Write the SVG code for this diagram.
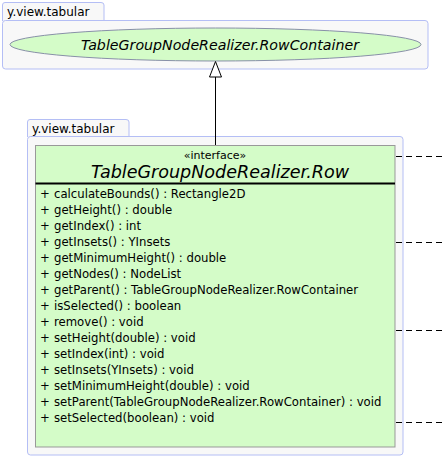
<svg xmlns="http://www.w3.org/2000/svg" width="442" height="458" viewBox="0 0 442 458">
<style>
.pkg{fill:#f8f8f8;stroke:#b4bef5;stroke-width:1}
.pkgt{font-family:"DejaVu Sans",sans-serif;font-size:12px;fill:#000}
.m{font-family:"DejaVu Sans",sans-serif;font-size:11.7px;fill:#000}
.dash{stroke:#000;stroke-width:1;stroke-dasharray:6,4;fill:none}
</style>
<rect width="442" height="458" fill="#fff"/>
<g id="pkg1">
<path class="pkg" d="M2.5,21 V5 Q2.5,2.5 5,2.5 H101 Q104,2.5 104,5 V21"/>
<rect class="pkg" x="2.5" y="20.5" width="425.5" height="48.5" rx="3"/>
<text class="pkgt" x="7" y="16">y.view.tabular</text>
</g>
<g id="rowcontainer">
<ellipse cx="215.5" cy="44.5" rx="205.5" ry="16.5" fill="#d4fcc8" stroke="#8890a8" stroke-width="1"/>
<text x="220" y="49.5" text-anchor="middle" font-family="DejaVu Sans,sans-serif" font-style="italic" font-size="13.5" textLength="278" lengthAdjust="spacingAndGlyphs">TableGroupNodeRealizer.RowContainer</text>
</g>
<g id="pkg2">
<path class="pkg" d="M27.5,137 V122 Q27.5,119.5 30,119.5 H126 Q129,119.5 129,122 V137"/>
<rect class="pkg" x="27.5" y="136.5" width="375.5" height="318.5" rx="3"/>
<text class="pkgt" x="32" y="133">y.view.tabular</text>
</g>
<g id="row">
<rect x="35.5" y="145.5" width="359.5" height="301.5" fill="#d4fcc8" stroke="#999999" stroke-width="1"/>
<line x1="35.5" y1="183.5" x2="395" y2="183.5" stroke="#000" stroke-width="2"/>
<text x="215" y="159" text-anchor="middle" font-family="DejaVu Sans,sans-serif" font-size="11">«interface»</text>
<text x="220" y="178" text-anchor="middle" font-family="DejaVu Sans,sans-serif" font-style="italic" font-size="17" textLength="258" lengthAdjust="spacingAndGlyphs">TableGroupNodeRealizer.Row</text>
<g class="m">
<text x="40" y="198">+</text><text x="54" y="198">calculateBounds() : Rectangle2D</text>
<text x="40" y="214">+</text><text x="54" y="214">getHeight() : double</text>
<text x="40" y="230">+</text><text x="54" y="230">getIndex() : int</text>
<text x="40" y="246">+</text><text x="54" y="246">getInsets() : YInsets</text>
<text x="40" y="262">+</text><text x="54" y="262">getMinimumHeight() : double</text>
<text x="40" y="278">+</text><text x="54" y="278">getNodes() : NodeList</text>
<text x="40" y="294">+</text><text x="54" y="294">getParent() : TableGroupNodeRealizer.RowContainer</text>
<text x="40" y="310">+</text><text x="54" y="310">isSelected() : boolean</text>
<text x="40" y="326">+</text><text x="54" y="326">remove() : void</text>
<text x="40" y="342">+</text><text x="54" y="342">setHeight(double) : void</text>
<text x="40" y="358">+</text><text x="54" y="358">setIndex(int) : void</text>
<text x="40" y="374">+</text><text x="54" y="374">setInsets(YInsets) : void</text>
<text x="40" y="390">+</text><text x="54" y="390">setMinimumHeight(double) : void</text>
<text x="40" y="406">+</text><text x="54" y="406">setParent(TableGroupNodeRealizer.RowContainer) : void</text>
<text x="40" y="422">+</text><text x="54" y="422">setSelected(boolean) : void</text>
</g>
</g>
<g id="connectors">
<line x1="215.5" y1="77" x2="215.5" y2="145" stroke="#000" stroke-width="1"/>
<polygon points="215.5,61.5 209.5,77 221.5,77" fill="#fff" stroke="#000" stroke-width="1"/>
<line class="dash" x1="396" y1="156.5" x2="442" y2="156.5"/>
<line class="dash" x1="396" y1="242.5" x2="442" y2="242.5"/>
<line class="dash" x1="396" y1="330.5" x2="442" y2="330.5"/>
<line class="dash" x1="396" y1="422.5" x2="442" y2="422.5"/>
</g>
</svg>
